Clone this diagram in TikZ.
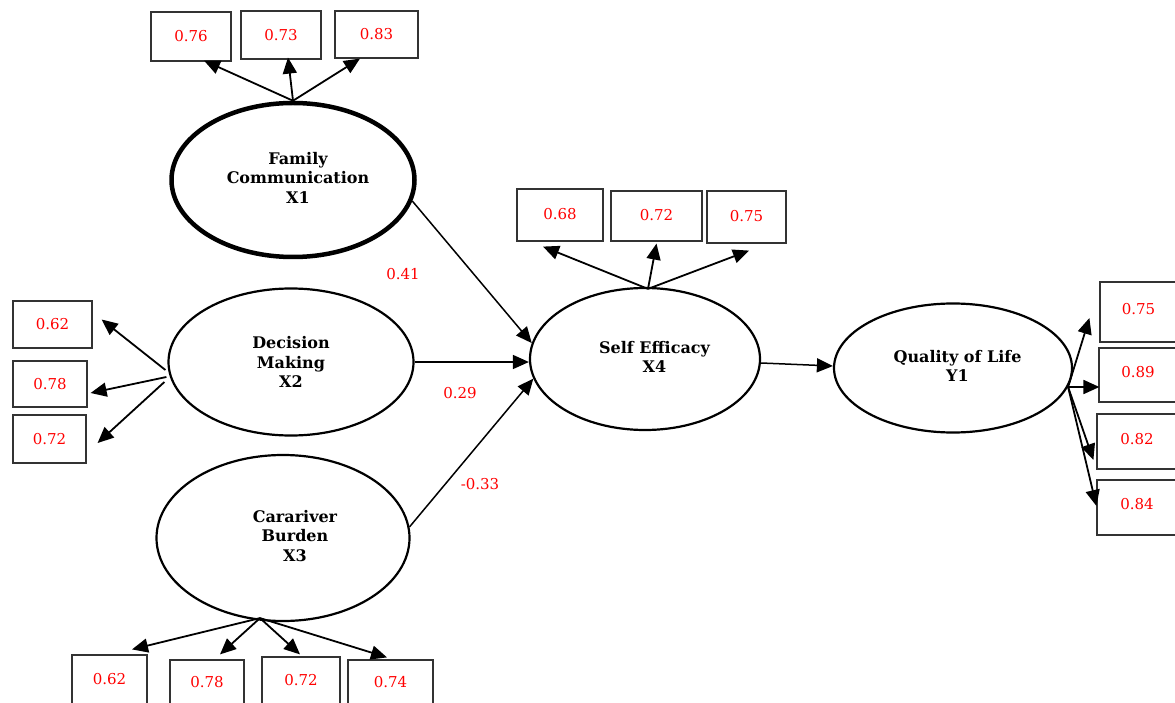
\documentclass[tikz,border=0pt]{standalone}
\usepackage{fontspec}
\setmainfont{DejaVu Serif}
\usetikzlibrary{shapes.geometric,arrows.meta}
\newcommand{\lattext}[3]{\hspace*{#1}\raisebox{#2}{\begin{tabular}{@{}c@{}}#3\end{tabular}}}
\begin{document}
\begin{tikzpicture}[x=1pt,y=-1pt,
  lat/.style={ellipse,draw,line width=2.2pt,align=center,inner sep=0pt,
    font=\bfseries\fontsize{16}{19.5}\selectfont},
  box/.style={rectangle,draw=black!80,line width=1.2pt,inner sep=0pt,
    text=red,font=\fontsize{15}{17}\selectfont},
  arr/.style={line width=1.8pt,-{Triangle[length=16pt,width=14pt]}},
  coef/.style={text=red,font=\fontsize{15}{17}\selectfont}]
\clip (0,0) rectangle (1175,703);
\useasboundingbox (0,0) rectangle (1175,703);
\fill[white] (0,0) rectangle (1175,703);

% latent variables
\node[lat,line width=4.5pt,minimum width=243pt,minimum height=154pt] (x1) at (293,180) {\lattext{10pt}{4pt}{Family\\Communication\\X1}};
\node[lat,minimum width=245pt,minimum height=147pt] (x2) at (291,362) {Decision\\Making\\X2};
\node[lat,minimum width=253pt,minimum height=166pt] (x3) at (283,538) {\lattext{24pt}{0pt}{Carariver\\Burden\\X3}};
\node[lat,minimum width=230pt,minimum height=142pt] (x4) at (645,359) {\lattext{19pt}{2pt}{Self Efficacy\\X4}};
\node[lat,minimum width=238pt,minimum height=129pt] (y1) at (953,368) {\lattext{9pt}{0pt}{Quality of Life\\Y1}};

% indicator boxes
\node[box,minimum width=80pt,minimum height=49pt] (b11) at (191,36.5) {0.76};
\node[box,minimum width=80pt,minimum height=48pt] (b12) at (281,35) {0.73};
\node[box,minimum width=83pt,minimum height=47pt] (b13) at (376.5,34.5) {0.83};

\node[box,minimum width=86pt,minimum height=52pt] (b41) at (560,215) {\raisebox{3pt}{0.68}};
\node[box,minimum width=91pt,minimum height=50pt] (b42) at (656.5,216) {\raisebox{2pt}{0.72}};
\node[box,minimum width=79pt,minimum height=52pt] (b43) at (746.5,217) {\raisebox{3pt}{0.75}};

\node[box,minimum width=79pt,minimum height=47pt] (b21) at (52.5,324.5) {0.62};
\node[box,minimum width=74pt,minimum height=46pt] (b22) at (50,384) {0.78};
\node[box,minimum width=73pt,minimum height=48pt] (b23) at (49.5,439) {0.72};

\node[box,minimum width=75pt,minimum height=50pt] (b31) at (109.5,680) {\raisebox{3pt}{0.62}};
\node[box,minimum width=74pt,minimum height=45pt] (b32) at (207,682.5) {0.78};
\node[box,minimum width=78pt,minimum height=48pt] (b33) at (301,681) {\raisebox{2pt}{0.72}};
\node[box,minimum width=85pt,minimum height=45pt] (b34) at (390.5,682.5) {0.74};

\node[box,minimum width=77pt,minimum height=60pt] (b51) at (1138.5,312) {\raisebox{6pt}{0.75}};
\node[box,minimum width=78pt,minimum height=54pt] (b52) at (1138,375) {\raisebox{6pt}{0.89}};
\node[box,minimum width=80pt,minimum height=55pt] (b53) at (1137,441.5) {\raisebox{5pt}{0.82}};
\node[box,minimum width=80pt,minimum height=55pt] (b54) at (1137,507.5) {\raisebox{7pt}{0.84}};

% loadings X1
\draw[arr] (x1.north) -- ([xshift=13pt,yshift=1pt]b11.south);
\draw[arr] (x1.north) -- ([xshift=7pt,yshift=2pt]b12.south);
\draw[arr] (x1.north) -- ([xshift=-16.5pt]b13.south);

% loadings X2
\draw[arr] ([xshift=-2pt,yshift=-8pt]x2.west) -- ([xshift=9pt,yshift=5pt]b21.east);
\draw[arr] ([xshift=-1pt,yshift=-15pt]x2.west) -- ([xshift=3pt,yshift=-9pt]b22.east);
\draw[arr] ([xshift=-3pt,yshift=-20pt]x2.west) -- ([xshift=11pt,yshift=-4pt]b23.east);

% loadings X3
\coordinate (x3o) at ([xshift=-23pt,yshift=4pt]x3.south);
\draw[arr] (x3o) -- ([xshift=22.5pt,yshift=5pt]b31.north);
\draw[arr] (x3o) -- ([xshift=13pt,yshift=5pt]b32.north);
\draw[arr] (x3o) -- ([xshift=-1pt,yshift=2pt]b33.north);
\draw[arr] (x3o) -- ([xshift=-3.5pt,yshift=2pt]b34.north);

% loadings X4
\coordinate (x4o) at ([xshift=3pt,yshift=-2pt]x4.north);
\draw[arr] (x4o) -- ([xshift=-17pt,yshift=-5pt]b41.south);
\draw[arr] (x4o) -- ([yshift=-2pt]b42.south);
\draw[arr] (x4o) -- ([xshift=2.5pt,yshift=-7pt]b43.south);

% loadings Y1
\coordinate (y1o) at ([xshift=-5pt,yshift=-19pt]y1.east);
\draw[arr] (y1o) -- ([xshift=-10pt,yshift=-6pt]b51.west);
\draw[arr] (y1o) -- ([xshift=1pt,yshift=-12pt]b52.west);
\draw[arr] (y1o) -- ([xshift=-3pt,yshift=-18.5pt]b53.west);
\draw[arr] (y1o) -- ([yshift=1.5pt]b54.west);

% structural paths
\draw[arr,line width=1.5pt] (x1.-10) -- (x4.172);
\draw[arr,line width=1.5pt] (x2.east) -- (x4.west |- x2.east);
\draw[arr,line width=1.5pt] (x3.5) -- (x4.190);
\draw[arr,line width=1.5pt] ([yshift=-4pt]x4.east) -- ([yshift=2pt]y1.west);

\node[coef] (c1) at (403,274) {0.41};
\node[coef] (c2) at (460,393) {0.29};
\node[coef] (c3) at (480,484) {-0.33};
\end{tikzpicture}
\end{document}
